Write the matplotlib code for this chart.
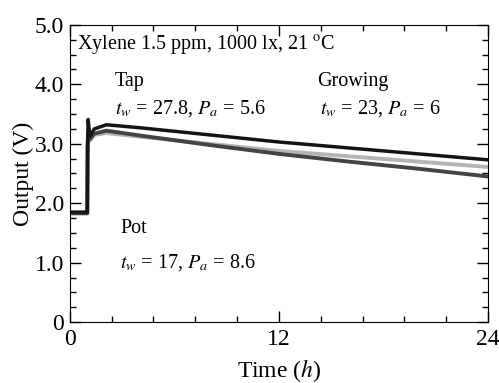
import matplotlib
matplotlib.use("Agg")
import matplotlib.pyplot as plt
import numpy as np
from matplotlib.ticker import MultipleLocator

plt.rcParams['font.family'] = ['Liberation Serif', 'DejaVu Serif']
plt.rcParams['mathtext.fontset'] = 'stix'

# time (h) and output (V)
t = [0.0, 1.0, 1.02, 1.05, 1.15, 1.4, 2.1, 4.0, 8.0, 12.0, 16.0, 20.0, 24.0]
tap = [1.85, 1.85, 3.0, 3.41, 3.12, 3.25, 3.32, 3.27, 3.15, 3.03, 2.93, 2.83, 2.73]
growing = [1.84, 1.84, 2.9, 3.15, 3.05, 3.15, 3.18, 3.12, 3.0, 2.88, 2.79, 2.70, 2.61]
pot = [1.83, 1.83, 2.95, 3.2, 3.08, 3.17, 3.22, 3.14, 2.98, 2.83, 2.70, 2.58, 2.45]

fig = plt.figure(figsize=(4.99, 3.83), dpi=100)
ax = fig.add_axes([0.140, 0.159, 0.838, 0.776])

ax.plot(t, growing, color='#b4b4b4', lw=2.8)
ax.plot(t, pot, color='#444444', lw=2.8)
ax.plot(t, tap, color='#151515', lw=2.5)

ax.set_xlim(0, 24)
ax.set_ylim(0, 5.0)
ax.set_xticks([0, 12, 24])
ax.set_xticklabels(['0', '12', '24'])
ax.set_yticks([0, 1, 2, 3, 4, 5])
ax.set_yticklabels(['0', '1.0', '2.0', '3.0', '4.0', '5.0'])
ax.xaxis.set_minor_locator(MultipleLocator(2.4))
ax.yaxis.set_minor_locator(MultipleLocator(0.25))
ax.tick_params(which='both', direction='in', top=True, right=True, labelsize=17)
ax.tick_params(which='major', length=8, width=1)
ax.tick_params(which='minor', length=4, width=1)
ax.tick_params(axis='x', pad=5)
ax.tick_params(axis='y', pad=4)

ax.set_xlabel('Time ($h$)', fontsize=17)
ax.set_ylabel('Output (V)', fontsize=17)
ax.xaxis.set_label_coords(0.5, -0.118)
ax.yaxis.set_label_coords(-0.085, 0.5)

fs = 14.5
ax.text(0.4, 4.66, 'Xylene 1.5 ppm, 1000 lx, 21 $^{\\rm o}$C', fontsize=fs, va='center')
ax.text(2.6, 4.04, 'Tap', fontsize=fs, va='center')
ax.text(2.6, 3.6, '$t_w$ = 27.8, $P_a$ = 5.6', fontsize=fs, va='center')
ax.text(14.2, 4.04, 'Growing', fontsize=fs, va='center')
ax.text(14.35, 3.6, '$t_w$ = 23, $P_a$ = 6', fontsize=fs, va='center')
ax.text(2.9, 1.58, 'Pot', fontsize=fs, va='center')
ax.text(2.9, 1.0, '$t_w$ = 17, $P_a$ = 8.6', fontsize=fs, va='center')

fig.savefig('out.png', dpi=100)
